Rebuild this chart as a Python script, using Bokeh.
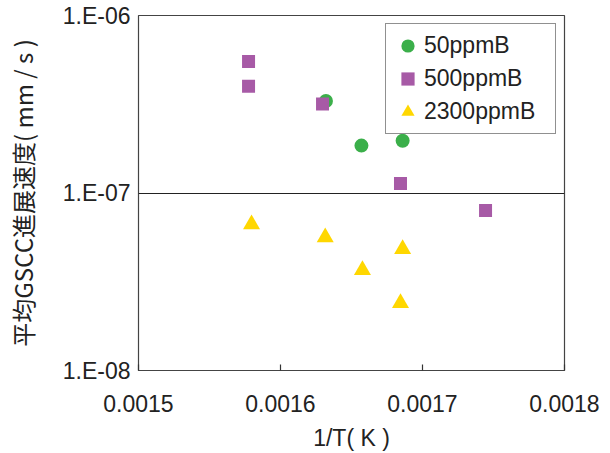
from bokeh.plotting import figure
from bokeh.models import FixedTicker, CustomJSTickFormatter, Legend, LegendItem
from bokeh.embed import file_html
from bokeh.resources import INLINE

# Data
x_50 = [0.001632, 0.001657, 0.001686]
y_50 = [3.3e-7, 1.85e-7, 1.97e-7]

x_500 = [0.0015775, 0.0015775, 0.0016296, 0.0016845, 0.0017444]
y_500 = [5.5e-7, 4.0e-7, 3.17e-7, 1.13e-7, 7.98e-8]

x_2300 = [0.0015796, 0.0016315, 0.0016577, 0.001686, 0.0016845]
y_2300 = [6.67e-8, 5.63e-8, 3.68e-8, 4.83e-8, 2.40e-8]

series_names = ["50ppmB", "500ppmB", "2300ppmB"]
x_ticks = [0.0015, 0.0016, 0.0017, 0.0018]
y_ticks = [1e-8, 1e-7, 1e-6]
x_title = "1/T( K )"
y_title = "平均GSCC進展速度( mm / s )"

FONT = "Liberation Sans"
TXT = "#222222"

p = figure(width=610, height=453, output_backend="svg", toolbar_location=None,
           y_axis_type="log", x_range=(0.0015, 0.0018), y_range=(1e-8, 1e-6),
           min_border_left=138, min_border_right=46, min_border_top=15,
           min_border_bottom=81)

p.outline_line_color = "#444444"
p.outline_line_width = 1.2
p.background_fill_color = "white"
p.border_fill_color = "white"

# grids
p.xgrid.visible = False
p.ygrid.ticker = FixedTicker(ticks=[1e-7])
p.ygrid.grid_line_color = "#222222"
p.ygrid.grid_line_width = 1.2

# x axis
xa = p.xaxis[0]
xa.ticker = FixedTicker(ticks=x_ticks)
xa.formatter = CustomJSTickFormatter(code="return tick.toFixed(4);")
xa.major_tick_in = 6
xa.major_tick_out = 0
xa.minor_tick_in = 0
xa.minor_tick_out = 0
xa.axis_line_color = None
xa.major_tick_line_color = "#333333"
xa.major_tick_line_width = 1.2
xa.major_label_text_font = FONT
xa.major_label_text_font_size = "23px"
xa.major_label_text_color = TXT
xa.major_label_standoff = 24
xa.axis_label = x_title
xa.axis_label_text_font = FONT
xa.axis_label_text_font_size = "23px"
xa.axis_label_text_font_style = "normal"
xa.axis_label_text_color = TXT
xa.axis_label_standoff = 10

# y axis
ya = p.yaxis[0]
ya.ticker = FixedTicker(ticks=y_ticks)
ya.formatter = CustomJSTickFormatter(
    code='var e = Math.round(Math.log10(tick)); var s = String(Math.abs(e)).padStart(2, "0"); return "1.E" + (e < 0 ? "-" : "+") + s;')
ya.major_tick_in = 0
ya.major_tick_out = 0
ya.minor_tick_in = 0
ya.minor_tick_out = 0
ya.axis_line_color = None
ya.major_label_text_font = FONT
ya.major_label_text_font_size = "23px"
ya.major_label_text_color = TXT
ya.major_label_standoff = 8
ya.axis_label = y_title
ya.axis_label_text_font = "Noto Sans CJK JP"
ya.axis_label_text_font_size = "24px"
ya.axis_label_text_font_style = "normal"
ya.axis_label_text_color = TXT
ya.axis_label_standoff = 20

r1 = p.scatter(x_50, y_50, marker="circle", size=14, fill_color="#3BAF4A", line_color=None)
r2 = p.scatter(x_500, y_500, marker="square", size=13, fill_color="#A75AA6", line_color=None)
r3 = p.scatter(x_2300, y_2300, marker="triangle", size=17, fill_color="#FFD700", line_color=None)

legend = Legend(items=[LegendItem(label=series_names[0], renderers=[r1]),
                       LegendItem(label=series_names[1], renderers=[r2]),
                       LegendItem(label=series_names[2], renderers=[r3])],
                location="top_right")
legend.margin = 8
legend.padding = 5
legend.spacing = -3
legend.glyph_width = 33
legend.glyph_height = 33
legend.label_height = 24
legend.label_width = 126
legend.label_standoff = -4
legend.label_text_font = FONT
legend.label_text_font_size = "23px"
legend.label_text_color = TXT
legend.border_line_color = "#222222"
legend.border_line_width = 1.5
legend.background_fill_alpha = 1.0
p.add_layout(legend)

open("out.html", "w").write(file_html(p, INLINE))
